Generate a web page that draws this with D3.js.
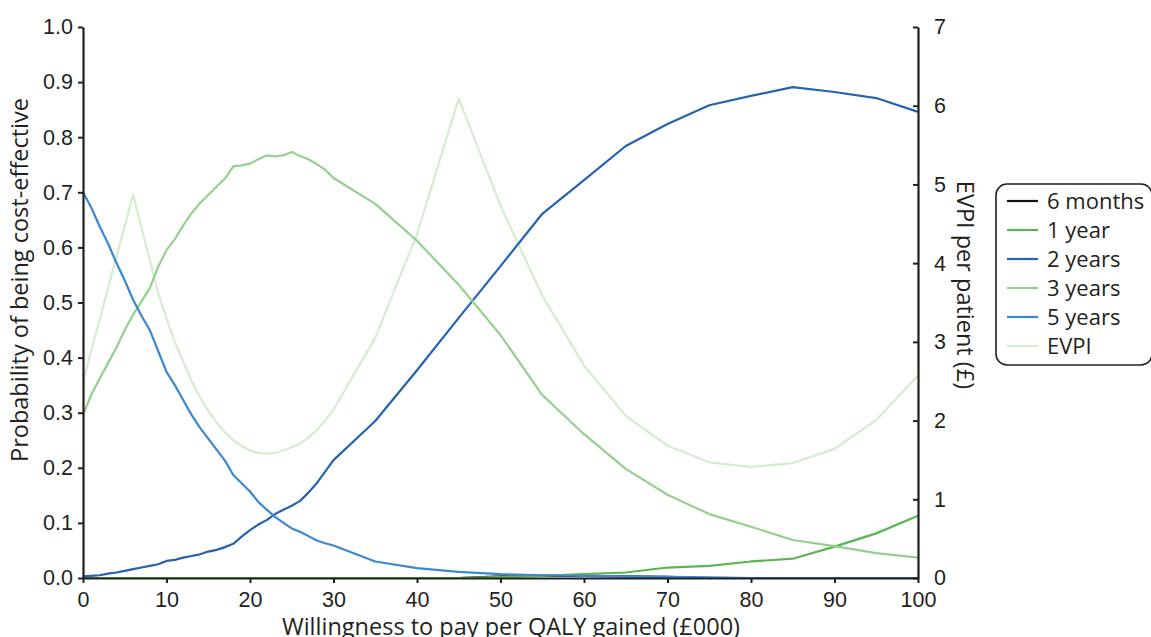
<!DOCTYPE html>
<html>
<head>
<meta charset="utf-8">
<script src="https://cdn.jsdelivr.net/npm/d3@7/dist/d3.min.js"></script>
<style>
  html, body { margin: 0; padding: 0; background: #fff; }
  svg { display: block; font-family: "Open Sans", "Noto Sans", sans-serif; }
</style>
</head>
<body>
<svg id="chart" width="1151" height="637"></svg>
<script>
// Willingness-to-pay thresholds (£000)
const wtpFine = d3.range(0, 31);
const wtpCoarse = [35, 40, 45, 50, 55, 60, 65, 70, 75, 80, 85, 90, 95, 100];
const wtp = wtpFine.concat(wtpCoarse);

// Probability of being cost-effective, per time horizon
const sixMonths = [0,0,0,0,0,0,0,0,0,0,0,0,0,0,0,0,0,0,0,0,0,0,0,0,0,0,0,0,0,0,0,
  0, 0, 0, 0.003, 0.004, 0.004, 0.003, 0.002, 0, 0, 0, 0, 0, 0];
const oneYear = [0,0,0,0,0,0,0,0,0,0,0,0,0,0,0,0,0,0,0,0,0,0,0,0,0,0,0,0,0,0,0,
  0, 0, 0, 0.002, 0.004, 0.007, 0.010, 0.019, 0.022, 0.030, 0.035, 0.057, 0.081, 0.113];
const twoYears = [0.003, 0.004, 0.005, 0.008, 0.010, 0.013, 0.016, 0.019, 0.022, 0.025,
  0.031, 0.033, 0.037, 0.040, 0.043, 0.048, 0.051, 0.056, 0.062, 0.075,
  0.087, 0.097, 0.105, 0.116, 0.124, 0.131, 0.140, 0.155, 0.172, 0.193, 0.214,
  0.285, 0.377, 0.472, 0.566, 0.661, 0.722, 0.784, 0.824, 0.858, 0.875, 0.891, 0.882, 0.871, 0.846];
const threeYears = [0.296, 0.333, 0.362, 0.390, 0.418, 0.450, 0.478, 0.502, 0.526, 0.565,
  0.595, 0.615, 0.640, 0.662, 0.680, 0.695, 0.710, 0.725, 0.747, 0.749,
  0.752, 0.760, 0.767, 0.765, 0.767, 0.773, 0.766, 0.760, 0.751, 0.741, 0.726,
  0.679, 0.612, 0.532, 0.441, 0.332, 0.261, 0.198, 0.151, 0.116, 0.093, 0.069, 0.058, 0.045, 0.037];
const fiveYears = [0.700, 0.672, 0.638, 0.607, 0.572, 0.540, 0.505, 0.476, 0.450, 0.412,
  0.374, 0.350, 0.323, 0.296, 0.273, 0.253, 0.233, 0.213, 0.187, 0.172,
  0.157, 0.138, 0.124, 0.111, 0.100, 0.090, 0.084, 0.076, 0.068, 0.063, 0.059,
  0.030, 0.018, 0.011, 0.007, 0.005, 0.004, 0.003, 0.002, 0.001, 0, 0, 0, 0, 0];

// Expected value of perfect information per patient (£)
const evpi = [2.48, 2.90, 3.28, 3.68, 4.08, 4.47, 4.87, 4.45, 4.04, 3.62,
  3.30, 3.00, 2.75, 2.50, 2.30, 2.12, 1.98, 1.85, 1.75, 1.68,
  1.62, 1.59, 1.58, 1.59, 1.62, 1.66, 1.71, 1.78, 1.88, 2.00, 2.14,
  3.05, 4.37, 6.09, 4.73, 3.59, 2.70, 2.06, 1.68, 1.47, 1.41, 1.46, 1.64, 2.01, 2.57];

const xTicks = [0, 10, 20, 30, 40, 50, 60, 70, 80, 90, 100];
const yTicks = [0, 0.1, 0.2, 0.3, 0.4, 0.5, 0.6, 0.7, 0.8, 0.9, 1.0];
const y2Ticks = [0, 1, 2, 3, 4, 5, 6, 7];

const seriesNames = ["6 months", "1 year", "2 years", "3 years", "5 years", "EVPI"];
const seriesColors = ["#111111", "#5ab552", "#2563b0", "#94d08e", "#3b88d0", "#d5ecd1"];
const seriesValues = [sixMonths, oneYear, twoYears, threeYears, fiveYears, evpi];
const seriesAxis = ["left", "left", "left", "left", "left", "right"];

const svg = d3.select("#chart");
const m = { left: 83, right: 918, top: 27, bottom: 578 };
const axisColor = "#231f20";
const tickSize = 21.5;
const titleSize = 23.5;

const x = d3.scaleLinear().domain([0, 100]).range([m.left, m.right]);
const y = d3.scaleLinear().domain([0, 1]).range([m.bottom, m.top]);
const y2 = d3.scaleLinear().domain([0, 7]).range([m.bottom, m.top]);

// Series lines (EVPI underneath the probability curves)
const lineL = d3.line().x(d => x(d[0])).y(d => y(d[1]));
const lineR = d3.line().x(d => x(d[0])).y(d => y2(d[1]));
const order = [5, 0, 1, 2, 3, 4];
order.forEach(i => {
  const pts = wtp.map((w, j) => [w, seriesValues[i][j]]);
  svg.append("path")
    .attr("d", (seriesAxis[i] === "left" ? lineL : lineR)(pts))
    .attr("fill", "none")
    .attr("stroke", seriesColors[i])
    .attr("stroke-width", 2.2)
    .attr("stroke-linejoin", "round");
});

function styleAxis(g) {
  g.select(".domain").attr("stroke", axisColor).attr("stroke-width", 2.2);
  g.selectAll(".tick line").attr("stroke", axisColor).attr("stroke-width", 2);
  g.selectAll(".tick text").attr("fill", "#231f20").attr("font-size", tickSize);
}

// Bottom axis
svg.append("g")
  .attr("transform", `translate(0,${m.bottom})`)
  .call(d3.axisBottom(x).tickValues(xTicks).tickFormat(d3.format("d")).tickSizeInner(5).tickSizeOuter(0).tickPadding(9))
  .call(styleAxis);

// Left axis
svg.append("g")
  .attr("transform", `translate(${m.left},0)`)
  .call(d3.axisLeft(y).tickValues(yTicks).tickFormat(d3.format(".1f")).tickSizeInner(5).tickSizeOuter(0).tickPadding(5))
  .call(styleAxis);

// Right axis (EVPI)
svg.append("g")
  .attr("transform", `translate(${m.right},0)`)
  .call(d3.axisRight(y2).tickValues(y2Ticks).tickFormat(d3.format("d")).tickSizeInner(-5).tickSizeOuter(0).tickPadding(16))
  .call(styleAxis);

// Axis titles
svg.append("text")
  .attr("x", 511)
  .attr("y", 635)
  .attr("text-anchor", "middle")
  .attr("font-size", titleSize)
  .attr("fill", "#231f20")
  .text("Willingness to pay per QALY gained (£000)");

svg.append("text")
  .attr("transform", "translate(28,280) rotate(-90)")
  .attr("text-anchor", "middle")
  .attr("font-size", titleSize)
  .attr("fill", "#231f20")
  .text("Probability of being cost-effective");

svg.append("text")
  .attr("transform", "translate(957,285) rotate(90)")
  .attr("text-anchor", "middle")
  .attr("font-size", titleSize)
  .attr("fill", "#231f20")
  .text("EVPI per patient (£)");

// Legend
const lg = svg.append("g").attr("transform", "translate(996,184)");
lg.append("rect")
  .attr("x", 0).attr("y", 0).attr("width", 156).attr("height", 181)
  .attr("rx", 11).attr("ry", 11)
  .attr("fill", "#fff").attr("stroke", axisColor).attr("stroke-width", 1.6);
seriesNames.forEach((name, i) => {
  const yy = 17 + i * 29;
  lg.append("line")
    .attr("x1", 11).attr("x2", 42).attr("y1", yy).attr("y2", yy)
    .attr("stroke", seriesColors[i]).attr("stroke-width", 2.2);
  lg.append("text")
    .attr("x", 51).attr("y", yy + 7.5)
    .attr("font-size", 22)
    .attr("fill", "#231f20")
    .text(name);
});
</script>
</body>
</html>
